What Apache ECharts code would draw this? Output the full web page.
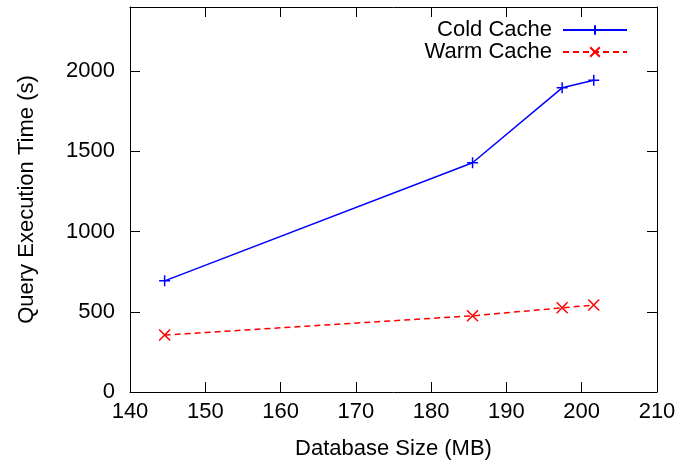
<!DOCTYPE html>
<html>
<head>
<meta charset="utf-8">
<script src="https://cdn.jsdelivr.net/npm/echarts@6/dist/echarts.min.js"></script>
<style>
  html, body { margin: 0; padding: 0; background: #fff; }
  #chart { width: 681px; height: 466px; }
</style>
</head>
<body>
<div id="chart"></div>
<script>
// data
const dbSize = [144.6, 185.5, 197.4, 201.6]      // MB
const coldCache = [693, 1429, 1896, 1944]        // seconds
const warmCache = [355, 475, 525, 542]           // seconds

const FONT = 'Liberation Sans'
const FS = 22
const plusSymbol = 'path://M5,0L5,10M0,5L10,5'
const crossSymbol = 'path://M0,0L10,10M10,0L0,10'

function pairs(ys) {
  return dbSize.map((x, i) => [x, ys[i]])
}

const chart = echarts.init(document.getElementById('chart'))

const baseX = {
  type: 'value',
  min: 140,
  max: 210,
  interval: 10,
  splitLine: { show: false },
  axisLine: { show: true, onZero: false, lineStyle: { color: '#000', width: 1 } },
  axisTick: { show: true, inside: true, length: 10, lineStyle: { color: '#000' } }
}
const baseY = {
  type: 'value',
  min: 0,
  max: 2400,
  interval: 500,
  splitLine: { show: false },
  axisLine: { show: true, onZero: false, lineStyle: { color: '#000', width: 1 } },
  axisTick: { show: true, inside: true, length: 10, lineStyle: { color: '#000' } }
}

chart.setOption({
  animation: false,
  grid: { left: 130, right: 24, top: 7, bottom: 74 },
  textStyle: { fontFamily: FONT },
  legend: {
    orient: 'vertical',
    right: 48,
    top: 14,
    align: 'right',
    itemWidth: 64,
    itemHeight: 12,
    itemGap: 0,
    textStyle: { fontFamily: FONT, fontSize: FS, lineHeight: 21, color: '#000', padding: [0, 6, 0, 0] },
    data: ['Cold Cache', 'Warm Cache']
  },
  xAxis: [
    Object.assign({}, baseX, {
      position: 'bottom',
      name: 'Database Size (MB)',
      nameLocation: 'middle',
      nameGap: 46,
      nameTextStyle: { fontFamily: FONT, fontSize: FS, color: '#000' },
      axisLabel: { fontFamily: FONT, fontSize: FS, color: '#000', margin: 9, formatter: v => String(v) }
    }),
    Object.assign({}, baseX, { position: 'top', axisLabel: { show: false } })
  ],
  yAxis: [
    Object.assign({}, baseY, {
      position: 'left',
      name: 'Query Execution Time (s)',
      nameLocation: 'middle',
      nameGap: 92,
      nameTextStyle: { fontFamily: FONT, fontSize: FS, color: '#000' },
      axisLabel: { fontFamily: FONT, fontSize: FS, color: '#000', margin: 15, showMaxLabel: false, formatter: v => String(v) }
    }),
    Object.assign({}, baseY, { position: 'right', axisLabel: { show: false } })
  ],
  series: [
    {
      name: 'Cold Cache',
      type: 'line',
      data: pairs(coldCache),
      symbol: plusSymbol,
      symbolSize: 11,
      showAllSymbol: true,
      itemStyle: { color: '#0000ff', borderColor: '#0000ff', borderWidth: 1.5 },
      lineStyle: { color: '#0000ff', width: 1.5, type: 'solid' }
    },
    {
      name: 'Warm Cache',
      type: 'line',
      data: pairs(warmCache),
      symbol: crossSymbol,
      symbolSize: 11,
      showAllSymbol: true,
      itemStyle: { color: '#ff0000', borderColor: '#ff0000', borderWidth: 1.5 },
      lineStyle: { color: '#ff0000', width: 1.5, type: [6, 4] }
    }
  ]
})
</script>
</body>
</html>
